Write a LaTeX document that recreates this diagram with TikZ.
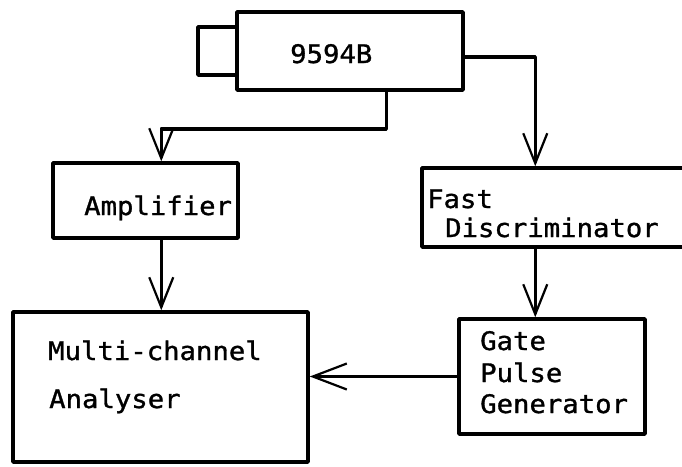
\documentclass[tikz,border=0pt]{standalone}
\usepackage{fontspec}
\newfontfamily\plotfont[FakeStretch=1.07,FakeBold=1.2]{DejaVu Sans Mono}
\usetikzlibrary{arrows.meta}
\begin{document}
\begin{tikzpicture}[x=1pt,y=-1pt,
  box/.style={draw,line width=3.5pt,rectangle,inner sep=0pt,line join=round},
  lbl/.style={anchor=base west,inner sep=0pt,font=\plotfont\fontsize{25.5}{25.5}\selectfont},
  wire/.style={line width=3.5pt,line join=round,line cap=round},
  arr/.style={wire,-{Straight Barb[length=30pt,width=24pt,line width=2.2pt]}}]
\useasboundingbox (0,0) rectangle (682,466);
\clip (0,0) rectangle (682,466);
% boxes
\node[box,minimum width=39pt,minimum height=48pt] (cap) at (217.5,51) {};
\node[box,fill=white,minimum width=226pt,minimum height=78pt] (det) at (350,51) {};
\node[box,minimum width=185pt,minimum height=75pt] (amp) at (145.5,200.5) {};
\node[box,minimum width=278pt,minimum height=79pt] (fd) at (561,207.5) {};
\node[box,minimum width=295pt,minimum height=150pt] (mca) at (160.5,387) {};
\node[box,minimum width=186pt,minimum height=115pt] (gpg) at (552,376.5) {};
% texts
\node[lbl] (tdet) at (290,63) {9594B};
\node[lbl] (tamp) at (84,215) {Amplifier};
\node[lbl] (tfd1) at (427,208) {Fast};
\node[lbl] (tfd2) at (445,237) {Discriminator};
\node[lbl] (tmca1) at (48,360) {Multi-channel};
\node[lbl] (tmca2) at (49,408) {Analyser};
\node[lbl] (tg1) at (480,350) {Gate};
\node[lbl] (tg2) at (480,382) {Pulse};
\node[lbl] (tg3) at (480,413) {Generator};
% connectors
\draw[arr] ([yshift=-6pt]det.east) -| ([xshift=115pt]fd.north west);
\draw[arr] ([xshift=151pt]det.south west) -- ++(0,37) -| ([xshift=110pt]amp.north west);
\draw[arr] ([xshift=110pt]amp.south west) -- ([xshift=110pt]amp.south west |- mca.north);
\draw[arr] ([xshift=115pt]fd.south west) -- ([xshift=115pt]fd.south west |- gpg.north);
\draw[arr,-{Straight Barb[length=34pt,width=26pt,line width=2.2pt]}] (gpg.west) -- (gpg.west -| mca.east);
\end{tikzpicture}
\end{document}
